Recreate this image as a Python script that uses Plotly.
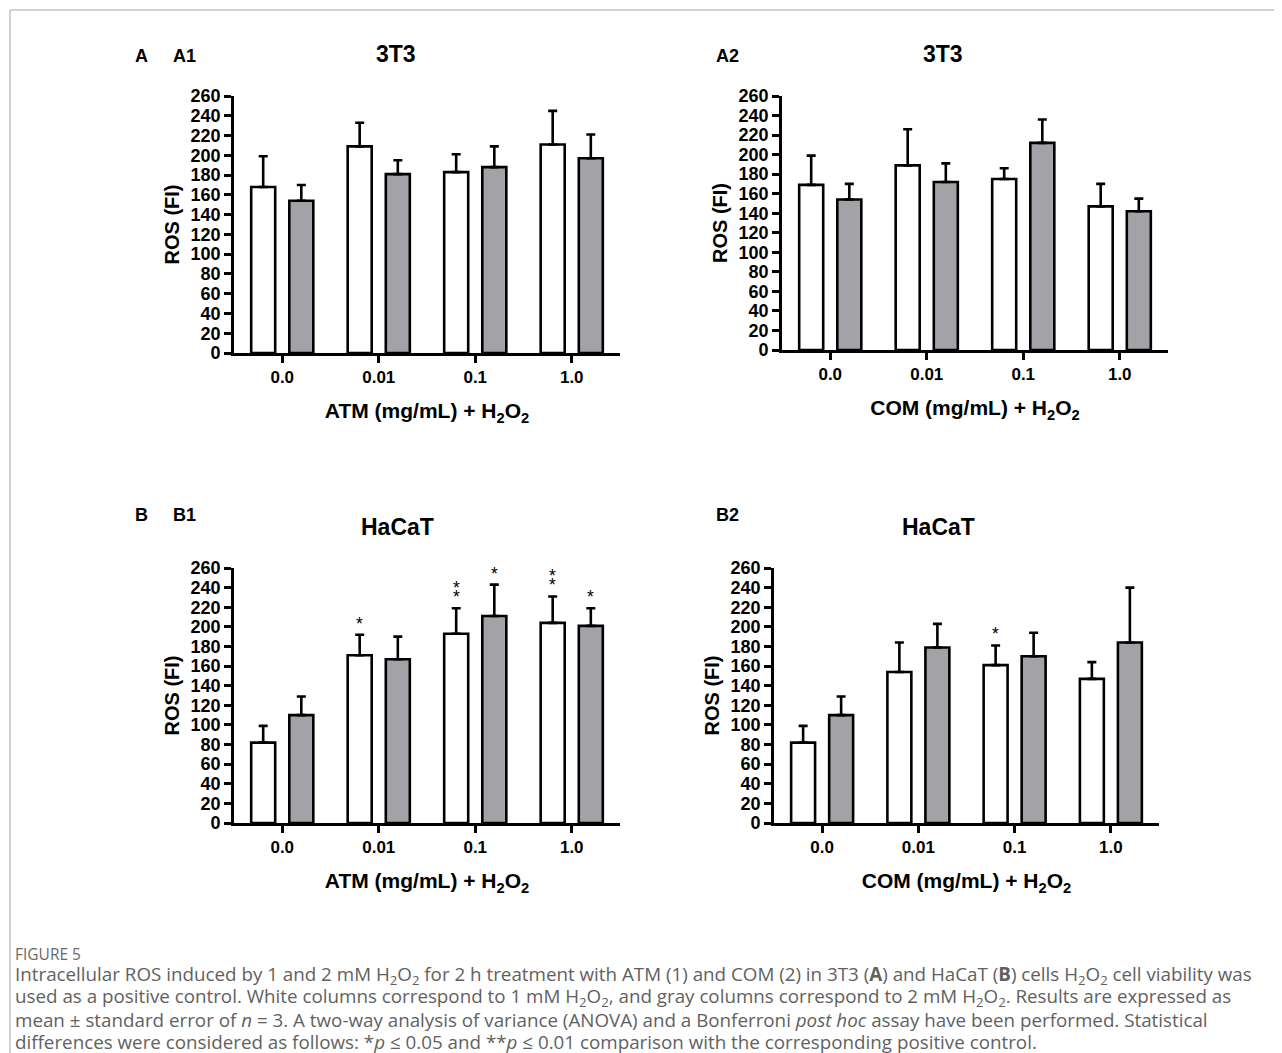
import plotly.graph_objects as go

# page is drawn with an 8 px body margin: figure occupies the window minus that offset
OFF = 8
W, H = 1282 - OFF, 1053 - OFF

# ---------------- data ----------------
categories = ["0.0", "0.01", "0.1", "1.0"]

a1_white = [168, 209, 183, 211]
a1_white_se = [31, 24, 18, 34]
a1_gray = [154, 181, 188, 197]
a1_gray_se = [16, 14, 21, 24]

a2_white = [169, 189, 175, 147]
a2_white_se = [30, 37, 11, 23]
a2_gray = [154, 172, 212, 142]
a2_gray_se = [16, 19, 24, 13]

b1_white = [82, 171, 193, 204]
b1_white_se = [17, 21, 26, 27]
b1_gray = [110, 167, 211, 201]
b1_gray_se = [19, 23, 32, 18]

b2_white = [82, 154, 161, 147]
b2_white_se = [17, 30, 20, 17]
b2_gray = [110, 179, 170, 184]
b2_gray_se = [19, 24, 24, 56]

b1_white_sig = ["", "*", "**", "**"]
b1_gray_sig = ["", "", "*", "*"]
b2_white_sig = ["", "", "*", ""]
b2_gray_sig = ["", "", "", ""]
no_sig = ["", "", "", ""]

y_ticks = list(range(0, 261, 20))

# ---------------- styling ----------------
FONT = "Liberation Sans, Arial, sans-serif"
GRAY = "#a3a2a7"
LW = 2.6


def px_x(px):
    return (px - OFF) / W


def px_y(py):
    return 1 - (py - OFF) / H


panels = [
    ("", a1_white, a1_white_se, a1_gray, a1_gray_se, (234, 620), (96, 353), "ATM", no_sig, no_sig),
    ("2", a2_white, a2_white_se, a2_gray, a2_gray_se, (782, 1168), (96, 350), "COM", no_sig, no_sig),
    ("3", b1_white, b1_white_se, b1_gray, b1_gray_se, (234, 620), (568, 823), "ATM", b1_white_sig, b1_gray_sig),
    ("4", b2_white, b2_white_se, b2_gray, b2_gray_se, (774, 1159), (568, 823), "COM", b2_white_sig, b2_gray_sig),
]

fig = go.Figure()
annotations = []
layout_axes = {}

for pid, wv, wse, gv, gse, xd, yd, xt, wsig, gsig in panels:
    xa = "x" + pid
    ya = "y" + pid
    zeros = [0] * len(categories)
    fig.add_trace(go.Bar(
        x=categories, y=wv, xaxis=xa, yaxis=ya,
        marker=dict(color="white", line=dict(color="black", width=LW)),
        error_y=dict(type="data", symmetric=False, array=wse, arrayminus=zeros,
                     color="black", thickness=LW, width=4.5),
        showlegend=False, hoverinfo="skip",
    ))
    fig.add_trace(go.Bar(
        x=categories, y=gv, xaxis=xa, yaxis=ya,
        marker=dict(color=GRAY, line=dict(color="black", width=LW)),
        error_y=dict(type="data", symmetric=False, array=gse, arrayminus=zeros,
                     color="black", thickness=LW, width=4.5),
        showlegend=False, hoverinfo="skip",
    ))

    xkey = "xaxis" + pid
    ykey = "yaxis" + pid
    layout_axes[xkey] = dict(
        domain=[px_x(xd[0]), px_x(xd[1])], anchor=ya, type="category",
        range=[-0.5, len(categories) - 0.5], automargin=False,
        showline=True, linecolor="black", linewidth=LW, showgrid=False, zeroline=False,
        ticks="outside", ticklen=7, tickwidth=LW, tickcolor="black",
        tickfont=dict(family=FONT, size=17, color="black", weight="bold"),
        title=dict(text="<b>" + xt + " (mg/mL) + H<sub>2</sub>O<sub>2</sub></b>",
                   font=dict(family=FONT, size=21, color="black"), standoff=18),
        fixedrange=True,
    )
    layout_axes[ykey] = dict(
        domain=[px_y(yd[1]), px_y(yd[0])], anchor=xa, range=[0, 260], automargin=False,
        tickvals=y_ticks, ticktext=[str(v) for v in y_ticks],
        showline=True, linecolor="black", linewidth=LW, showgrid=False, zeroline=False,
        ticks="outside", ticklen=7, tickwidth=LW, tickcolor="black",
        tickfont=dict(family=FONT, size=18, color="black", weight="bold"),
        title=dict(text="<b>ROS (FI)</b>", font=dict(family=FONT, size=20, color="black"), standoff=6),
        fixedrange=True,
    )

    # significance stars (category index + pixel shift toward the bar)
    for sigs, vals, ses, shift in ((wsig, wv, wse, -19), (gsig, gv, gse, 19)):
        for i, (s, v, e) in enumerate(zip(sigs, vals, ses)):
            for k in range(len(s)):
                annotations.append(dict(
                    x=i, y=v + e, xref=xa, yref=ya, text="*", showarrow=False,
                    xshift=shift, yshift=-1 + 9.5 * k, yanchor="bottom", xanchor="center",
                    font=dict(family=FONT, size=17.5, color="black"),
                ))


def label(text, x, y, size, anchor="left"):
    annotations.append(dict(
        text=text, x=px_x(x), y=px_y(y), xref="paper", yref="paper", showarrow=False,
        xanchor=anchor, yanchor="middle",
        font=dict(family=FONT, size=size, color="black"),
    ))


label("<b>A</b>", 133, 56, 18)
label("<b>A1</b>", 171, 56, 18)
label("<b>3T3</b>", 396, 54, 23, "center")
label("<b>A2</b>", 714, 56, 18)
label("<b>3T3</b>", 943, 54, 23, "center")
label("<b>B</b>", 133, 515, 18)
label("<b>B1</b>", 171, 515, 18)
label("<b>HaCaT</b>", 397, 527, 23, "center")
label("<b>B2</b>", 714, 515, 18)
label("<b>HaCaT</b>", 938, 527, 23, "center")

# caption
CAP_FONT = "Open Sans, Noto Sans, sans-serif"
CAP_COLOR = "#616161"
annotations.append(dict(
    text="FIGURE 5", x=px_x(13), y=px_y(954), xref="paper", yref="paper", showarrow=False,
    xanchor="left", yanchor="middle", font=dict(family=CAP_FONT, size=15.5, color="#6a6a6a"),
))
caption_lines = [
    "Intracellular ROS induced by 1 and 2 mM H<sub>2</sub>O<sub>2</sub> for 2 h treatment with ATM (1) and COM (2) in 3T3 (<b>A</b>) and HaCaT (<b>B</b>) cells H<sub>2</sub>O<sub>2</sub> cell viability was",
    "used as a positive control. White columns correspond to 1 mM H<sub>2</sub>O<sub>2</sub>, and gray columns correspond to 2 mM H<sub>2</sub>O<sub>2</sub>. Results are expressed as",
    "mean ± standard error of <i>n</i> = 3. A two-way analysis of variance (ANOVA) and a Bonferroni <i>post hoc</i> assay have been performed. Statistical",
    "differences were considered as follows: *<i>p</i> ≤ 0.05 and **<i>p</i> ≤ 0.01 comparison with the corresponding positive control.",
]
for i, line in enumerate(caption_lines):
    annotations.append(dict(
        text=line, x=px_x(13), y=px_y(975 + 22.3 * i), xref="paper", yref="paper", showarrow=False,
        xanchor="left", yanchor="middle", font=dict(family=CAP_FONT, size=18.8, color=CAP_COLOR),
    ))

shapes = [
    dict(type="line", xref="paper", yref="paper", x0=px_x(10), x1=1, y0=px_y(10), y1=px_y(10),
         line=dict(color="#c4c4c4", width=1.5)),
    dict(type="line", xref="paper", yref="paper", x0=px_x(10), x1=px_x(10), y0=px_y(10), y1=0,
         line=dict(color="#c4c4c4", width=1.5)),
]

fig.update_layout(
    width=W, height=H, margin=dict(l=0, r=0, t=0, b=0, pad=0, autoexpand=False),
    paper_bgcolor="white", plot_bgcolor="white",
    barmode="group", bargap=0.21, bargroupgap=0.37,
    annotations=annotations, shapes=shapes,
    **layout_axes,
)

fig.write_html("out.html", config={"displayModeBar": False})
